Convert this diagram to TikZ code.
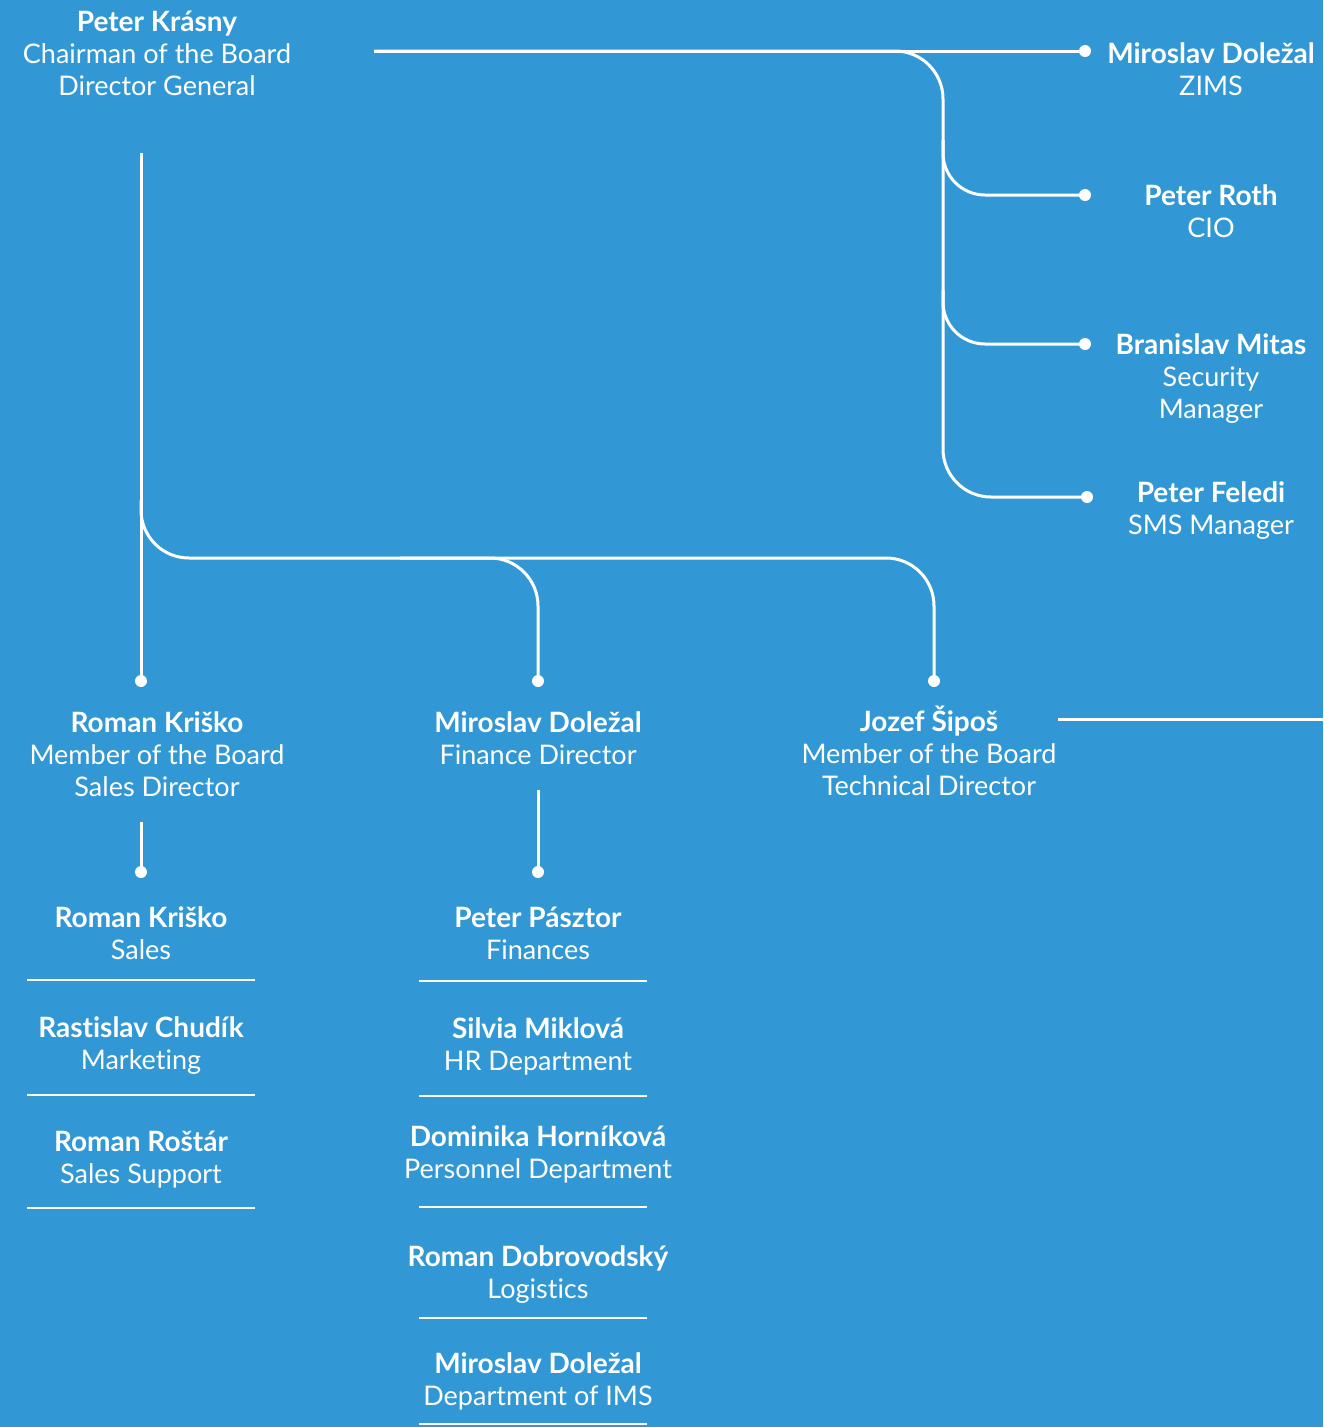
\documentclass[tikz,border=0pt]{standalone}
\usepackage{fontspec}
\setmainfont{Lato}[Ligatures={NoCommon}]
\definecolor{bg}{RGB}{49,152,213}
\newcommand{\pname}[1]{{\fontsize{28}{32}\selectfont\textbf{#1}}}
\tikzset{
  person/.style={align=center, text=white, inner sep=0pt, font=\fontsize{27}{32}\selectfont},
  conn/.style={draw=white, line width=3pt},
  rc/.style={rounded corners=48pt},
  dotc/.style={circle, fill=white, inner sep=0pt, minimum size=12pt},
  sepline/.style={draw=white, line width=1.3pt},
}
\begin{document}
\begin{tikzpicture}[x=1pt,y=-1pt]
\fill[bg] (0,0) rectangle (1323,1427);
\useasboundingbox (0,0) rectangle (1323,1427);

% people
\node[person] (krasny) at (157,53) {\pname{Peter Krásny}\\Chairman of the Board\\Director General};
\node[person] (zims) at (1211,69) {\pname{Miroslav Doležal}\\ZIMS};
\node[person] (roth) at (1211,211) {\pname{Peter Roth}\\CIO};
\node[person] (mitas) at (1211,379) {\pname{Branislav Mitas}\\Security\\Manager};
\node[person] (feledi) at (1211,511) {\pname{Peter Feledi}\\SMS Manager};
\node[person] (kriskoB) at (157,754) {\pname{Roman Kriško}\\Member of the Board\\Sales Director};
\node[person] (dolezalF) at (538,738) {\pname{Miroslav Doležal}\\Finance Director};
\node[person] (sipos) at (929,751) {\pname{Jozef Šipoš}\\Member of the Board\\Technical Director};
\node[person] (krisko2) at (141,933) {\pname{Roman Kriško}\\Sales};
\node[person] (chudik) at (141,1046) {\pname{Rastislav Chudík}\\Marketing};
\node[person] (rostar) at (141,1160) {\pname{Roman Roštár}\\Sales Support};
\node[person] (pasztor) at (538,933) {\pname{Peter Pásztor}\\Finances};
\node[person] (miklova) at (538,1046) {\pname{Silvia Miklová}\\HR Department};
\node[person] (hornikova) at (538,1154) {\pname{Dominika Horníková}\\Personnel Department};
\node[person] (dobro) at (538,1275) {\pname{Roman Dobrovodský}\\Logistics};
\node[person] (dolezalI) at (538,1381) {\pname{Miroslav Doležal}\\Department of IMS};

% dots
\node[dotc] (dZims) at (1085,51) {};
\node[dotc] (dRoth) at (1085,195) {};
\node[dotc] (dMitas) at (1085,344) {};
\node[dotc] (dFeledi) at (1087,497) {};
\node[dotc] (dKrisko) at (141,681) {};
\node[dotc] (dFin) at (538,681) {};
\node[dotc] (dSipos) at (934,681) {};
\node[dotc] (dKrisko2) at (141,872) {};
\node[dotc] (dPasztor) at (538,872) {};

% connector coordinates
\coordinate (topStart) at (374,51);
\coordinate (trunkBot) at (943,497);
\coordinate (br1) at (943,140);
\coordinate (br2) at (943,290);
\coordinate (leftStart) at (141,153);
\coordinate (split) at (141,500);
\coordinate (hEnd) at (934,558);
\coordinate (hMid) at (400,558);
\coordinate (siposR) at (1058,719);
\coordinate (rightEdge) at (1323,719);
\coordinate (kriskoS) at (141,822);
\coordinate (finS) at (538,790);

% connectors
\draw[conn] (topStart) -- (dZims.center);
\draw[conn,rc] (topStart) -| (trunkBot) -- (dFeledi.center);
\draw[conn,rounded corners=42pt] (br1) |- (dRoth.center);
\draw[conn,rounded corners=42pt] (br2) |- (dMitas.center);
\draw[conn] (leftStart) -- (dKrisko.center);
\draw[conn,rc] (split) |- (hEnd) -- (dSipos.center);
\draw[conn,rc] (hMid) -| (dFin.center);
\draw[conn] (siposR) -- (rightEdge);
\draw[conn] (kriskoS) -- (dKrisko2.center);
\draw[conn] (finS) -- (dPasztor.center);

% separators
\foreach \y/\n in {980/a,1095/b,1208/c} {
  \coordinate (ls\n) at (27,\y); \coordinate (le\n) at (255,\y);
  \draw[sepline] (ls\n) -- (le\n);
}
\foreach \y/\n in {981/a,1096/b,1207/c,1318/d,1424/e} {
  \coordinate (ms\n) at (419,\y); \coordinate (me\n) at (647,\y);
  \draw[sepline] (ms\n) -- (me\n);
}
\end{tikzpicture}
\end{document}
